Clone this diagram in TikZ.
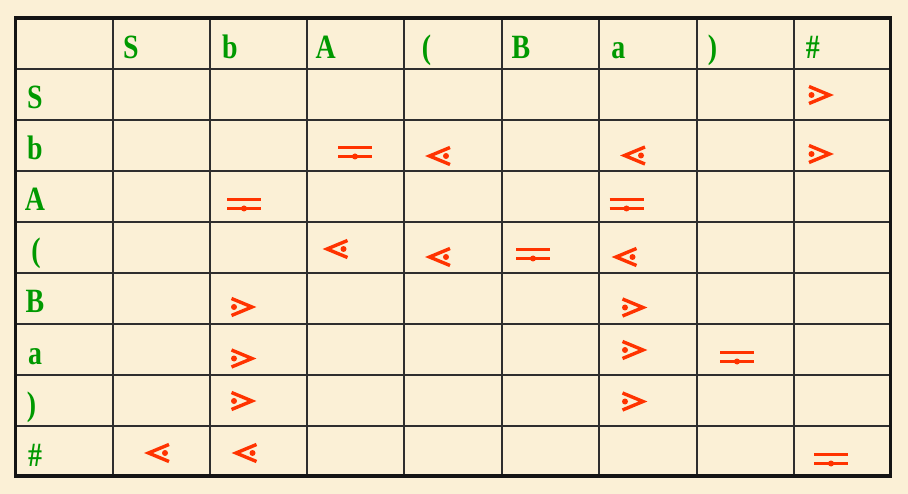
\documentclass[tikz,border=0pt]{standalone}
\usepackage{fontspec}
\newfontfamily\lblfont{Liberation Serif}[FakeStretch=0.82]
\definecolor{bgcream}{HTML}{FBF0D6}
\definecolor{lblgreen}{HTML}{009900}
\definecolor{symred}{HTML}{FF3300}
\definecolor{gridgray}{HTML}{2E2E2E}
\begin{document}
\begin{tikzpicture}[x=1bp,y=-1bp,
  lbl/.style={font=\lblfont\bfseries\fontsize{34bp}{34bp}\selectfont, text=lblgreen, inner sep=0pt, anchor=base},
  gridline/.style={draw=gridgray, line width=2bp},
  border/.style={draw=black!92, line width=3.4bp},
  sym/.style={draw=symred, line width=3.4bp, line join=miter},
  lt/.pic={\draw[sym] (11,-8.5) -- (-9.5,0) -- (11,8.5); \fill[symred] (7,0) circle (3bp);},
  gt/.pic={\draw[sym] (-11,-8.5) -- (9.5,0) -- (-11,8.5); \fill[symred] (-8.5,0) circle (3bp);},
  eq/.pic={\draw[symred, line width=2.8bp] (-17,-4.5) -- (17,-4.5) (-17,4.5) -- (17,4.5); \fill[symred] (0,4.5) circle (3bp);}
]
\useasboundingbox (0,0) rectangle (908,494);
\fill[bgcream] (0,0) rectangle (908,494);
% grid
\foreach \cx in {112.5,210,307,404,501.5,599,697,793.5}
  \draw[gridline] (\cx,18) -- (\cx,476);
\foreach \ry in {69,120,171,222,273,324,375,426}
  \draw[gridline] (15.5,\ry) -- (890.5,\ry);
\draw[border] (15.5,18) rectangle (890.5,476);
% header labels
\node[lbl] (h1) at (131,58.3) {S};
\node[lbl] (h2) at (229.8,58.3) {b};
\node[lbl] (h3) at (325.8,58.3) {A};
\node[lbl] (h4) at (426.5,58.3) {(};
\node[lbl] (h5) at (520.8,58.3) {B};
\node[lbl] (h6) at (618.3,58.3) {a};
\node[lbl] (h7) at (712.5,58.3) {)};
\node[lbl] (h8) at (812.8,58.3) {\#};
% row labels
\node[lbl] (r1) at (35,109) {S};
\node[lbl] (r2) at (35,160) {b};
\node[lbl] (r3) at (35,211) {A};
\node[lbl] (r4) at (36,262) {(};
\node[lbl] (r5) at (35,313) {B};
\node[lbl] (r6) at (35,364) {a};
\node[lbl] (r7) at (31.5,415) {)};
\node[lbl] (r8) at (35,466) {\#};
% greater-dot
\pic (g1) at (820,95) {gt};
\pic (g2) at (820,154) {gt};
\pic (g3) at (242.5,307) {gt};
\pic (g4) at (633.5,307.5) {gt};
\pic (g5) at (242.5,358.5) {gt};
\pic (g6) at (633.5,350) {gt};
\pic (g7) at (242.5,401) {gt};
\pic (g8) at (633.5,401.5) {gt};
% less-dot
\pic (l1) at (439,156) {lt};
\pic (l2) at (634,155.5) {lt};
\pic (l3) at (336.5,249) {lt};
\pic (l4) at (439,257) {lt};
\pic (l5) at (625.5,257) {lt};
\pic (l6) at (158,453) {lt};
\pic (l7) at (245.5,453) {lt};
% equal-dot
\pic (e1) at (355,152) {eq};
\pic (e2) at (244,204) {eq};
\pic (e3) at (626.5,204) {eq};
\pic (e4) at (533,254) {eq};
\pic (e5) at (737,357) {eq};
\pic (e6) at (831,459) {eq};
\end{tikzpicture}
\end{document}
